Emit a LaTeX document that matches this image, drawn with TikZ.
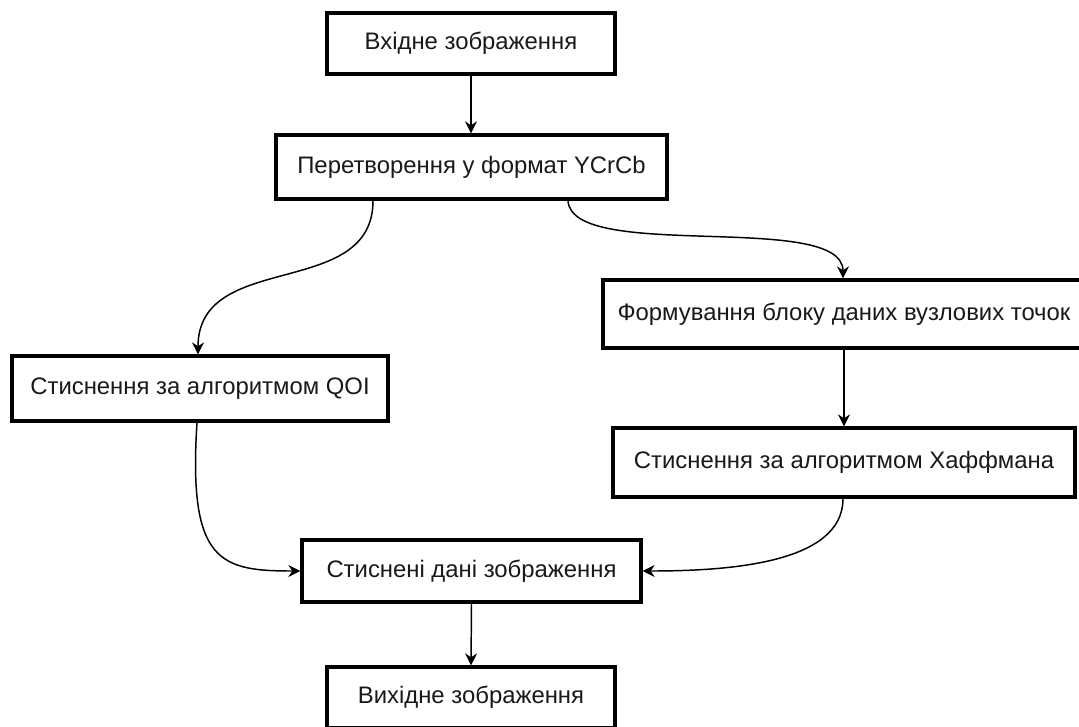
\documentclass[tikz,border=0pt]{standalone}
\usepackage{fontspec}
\setmainfont{Liberation Sans}
\usetikzlibrary{arrows.meta,calc}
\begin{document}
\begin{tikzpicture}[x=0.75pt,y=-0.75pt,
  box/.style={draw=black,line width=2.5pt,fill=white,inner sep=0pt,font=\fontsize{17.9}{21}\selectfont,text=black!90},
  conn/.style={draw=black,line width=1.1pt,-{Stealth[length=9pt,width=9pt,inset=3pt]}}]
\useasboundingbox (0,0) rectangle (1079,726);
\clip (0,0) rectangle (1079,726);
\fill[white] (0,0) rectangle (1079,726);
\node[box,minimum width=288*0.75pt,minimum height=61*0.75pt] (n1) at (471,43.5) {Вхідне зображення};
\node[box,minimum width=391*0.75pt,minimum height=64*0.75pt] (n2) at (471.5,167) {Перетворення у формат YCrCb};
\node[box,minimum width=482*0.75pt,minimum height=68*0.75pt] (n3) at (844,314) {Формування блоку даних вузлових точок};
\node[box,minimum width=376*0.75pt,minimum height=65*0.75pt] (n4) at (200,388.5) {Стиснення за алгоритмом QOI};
\node[box,minimum width=462*0.75pt,minimum height=69*0.75pt] (n5) at (844,462.5) {Стиснення за алгоритмом Хаффмана};
\node[box,minimum width=339*0.75pt,minimum height=62*0.75pt] (n6) at (471.5,571) {Стиснені дані зображення};
\node[box,minimum width=288*0.75pt,minimum height=61*0.75pt] (n7) at (471,697.5) {Вихідне зображення};

\draw[conn] (n1.south) -- (n2.north -| n1.south);
\draw[conn] ($(n2.south)+(-98.5,0)$) .. controls ($(n2.south)+(-98.5,100)$) and ($(n4.north)+(-2,-105)$) .. ($(n4.north)+(-2,0)$);
\draw[conn] ($(n2.south)+(96.5,0)$) .. controls ($(n2.south)+(100,62)$) and ($(n3.north)+(-1,-68)$) .. ($(n3.north)+(-1,0)$);
\draw[conn] (n3.south) -- (n5.north);
\draw[conn] ($(n4.south)+(-3,0)$) .. controls ($(n4.south)+(-12,140)$) and ($(n6.west)+(-80,0)$) .. (n6.west);
\draw[conn] ($(n5.south)+(-1,0)$) .. controls ($(n5.south)+(-1,65)$) and ($(n6.east)+(85,0)$) .. (n6.east);
\draw[conn] (n6.south) -- (n7.north);
\end{tikzpicture}
\end{document}
